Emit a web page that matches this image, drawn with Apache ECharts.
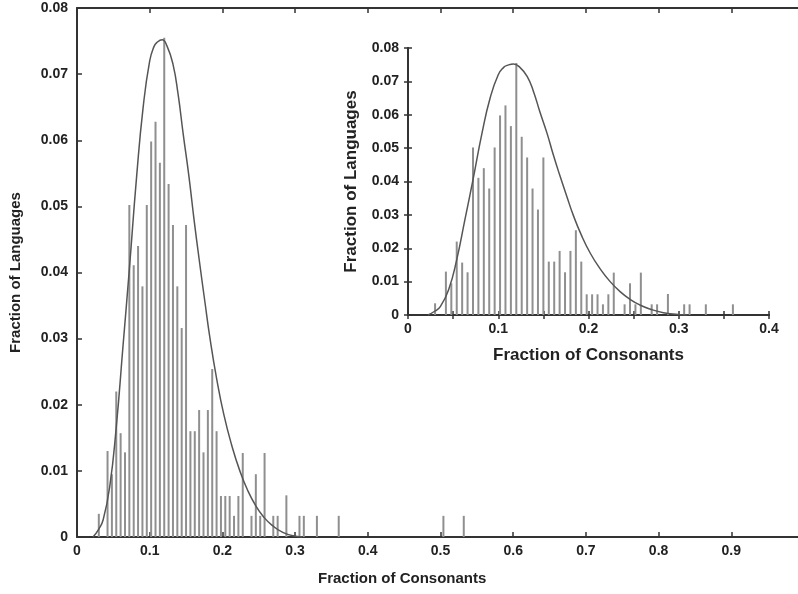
<!DOCTYPE html>
<html>
<head>
<meta charset="utf-8">
<script src="https://cdn.jsdelivr.net/npm/echarts@6/dist/echarts.min.js"></script>
<style>
html,body{margin:0;padding:0;background:#fff;}
#c{width:798px;height:594px;}
</style>
</head>
<body>
<div id="c"></div>
<script>
// Histogram bins (fraction of consonants) and fraction of languages
var binX = [0.030,0.042,0.048,0.054,0.060,0.066,0.072,0.078,0.084,0.090,0.096,0.102,0.108,0.114,0.120,0.126,0.132,0.138,0.144,0.150,0.156,0.162,0.168,0.174,0.180,0.186,0.192,0.198,0.204,0.210,0.216,0.222,0.228,0.240,0.246,0.252,0.258,0.270,0.276,0.288,0.306,0.312,0.330,0.360,0.504,0.532];
var binFrac = [0.0035,0.0130,0.0095,0.0220,0.0157,0.0128,0.0502,0.0411,0.0440,0.0379,0.0502,0.0598,0.0628,0.0566,0.0755,0.0534,0.0472,0.0379,0.0316,0.0472,0.0160,0.0160,0.0192,0.0128,0.0192,0.0254,0.0160,0.0062,0.0062,0.0062,0.0032,0.0062,0.0127,0.0032,0.0095,0.0032,0.0127,0.0032,0.0032,0.0063,0.0032,0.0032,0.0032,0.0032,0.0032,0.0032];
// Fitted curve
var curveX = [0.022,0.030,0.036,0.045,0.054,0.063,0.072,0.082,0.091,0.100,0.106,0.110,0.117,0.124,0.132,0.139,0.146,0.154,0.161,0.168,0.176,0.183,0.192,0.202,0.213,0.224,0.235,0.246,0.257,0.268,0.283,0.301,0.310];
var curveY = [0.0000,0.0012,0.0026,0.0076,0.0166,0.0285,0.0405,0.0545,0.0650,0.0720,0.0742,0.0748,0.0752,0.0742,0.0715,0.0670,0.0610,0.0545,0.0480,0.0420,0.0355,0.0300,0.0240,0.0185,0.0138,0.0100,0.0070,0.0047,0.0030,0.0018,0.0007,0.0001,0.0000];

var barData = binX.map(function(x,i){return [x, binFrac[i]];});
var curveData = curveX.map(function(x,i){return [x, curveY[i]];});

var FONT = 'Liberation Sans, Arial, sans-serif';
var axisCol = '#333';
var labelStyle = {fontFamily: FONT, fontSize: 14, fontWeight: 'bold', color: '#222'};
var nameStyle = {fontFamily: FONT, fontSize: 15, fontWeight: 'bold', color: '#222'};
var insetNameStyle = {fontFamily: FONT, fontSize: 17, fontWeight: 'bold', color: '#222'};

var chart = echarts.init(document.getElementById('c'), null, {renderer: 'canvas'});
chart.setOption({
  animation: false,
  backgroundColor: '#fff',
  grid: [
    {left: 77, top: 8, width: 727, height: 529, containLabel: false, outerBoundsMode: 'none'},
    {left: 408, top: 48, width: 361, height: 267, containLabel: false, outerBoundsMode: 'none', show: true, backgroundColor: '#fff', borderWidth: 0}
  ],
  xAxis: [
    {gridIndex: 0, type: 'value', min: 0, max: 1, interval: 0.1, position: 'bottom',
     axisLine: {lineStyle: {color: axisCol, width: 2}}, axisTick: {inside: true, length: 5, lineStyle: {color: axisCol, width: 1.5}},
     splitLine: {show: false}, axisLabel: Object.assign({margin: 7}, labelStyle)},
    {gridIndex: 0, type: 'value', min: 0, max: 1, interval: 0.1, position: 'top',
     axisLine: {lineStyle: {color: axisCol, width: 2}}, axisTick: {inside: true, length: 5, lineStyle: {color: axisCol, width: 1.5}},
     splitLine: {show: false}, axisLabel: {show: false}},
    {gridIndex: 1, type: 'value', min: 0, max: 0.4, interval: 0.05, position: 'bottom',
     name: 'Fraction of Consonants', nameLocation: 'middle', nameGap: 32, nameTextStyle: insetNameStyle,
     axisLine: {lineStyle: {color: axisCol, width: 2}}, axisTick: {inside: true, length: 4, lineStyle: {color: axisCol, width: 1.5}},
     splitLine: {show: false},
     axisLabel: Object.assign({margin: 7, formatter: function(v){ var k = Math.round(v*100); return (k % 10 === 0) ? String(k/100) : ''; }}, labelStyle)},
    {gridIndex: 1, type: 'value', min: 0, max: 0.4, interval: 0.05, position: 'top',
     axisLine: {lineStyle: {color: axisCol, width: 2}}, axisTick: {inside: true, length: 4, lineStyle: {color: axisCol, width: 1.5}},
     splitLine: {show: false}, axisLabel: {show: false}}
  ],
  yAxis: [
    {gridIndex: 0, type: 'value', min: 0, max: 0.08, interval: 0.01, position: 'left',
     name: 'Fraction of Languages', nameLocation: 'middle', nameGap: 54, nameTextStyle: nameStyle,
     axisLine: {lineStyle: {color: axisCol, width: 2}}, axisTick: {inside: true, length: 5, lineStyle: {color: axisCol, width: 1.5}},
     splitLine: {show: false}, axisLabel: Object.assign({margin: 9}, labelStyle)},
    {gridIndex: 1, type: 'value', min: 0, max: 0.08, interval: 0.01, position: 'left',
     name: 'Fraction of Languages', nameLocation: 'middle', nameGap: 48, nameTextStyle: insetNameStyle,
     axisLine: {lineStyle: {color: axisCol, width: 2}}, axisTick: {inside: true, length: 4, lineStyle: {color: axisCol, width: 1.5}},
     splitLine: {show: false}, axisLabel: Object.assign({margin: 9}, labelStyle)},
    {gridIndex: 1, type: 'value', min: 0, max: 0.08, interval: 0.01, position: 'right',
     axisLine: {lineStyle: {color: axisCol, width: 2}}, axisTick: {inside: true, length: 4, lineStyle: {color: axisCol, width: 1.5}},
     splitLine: {show: false}, axisLabel: {show: false}}
  ],
  graphic: [
    {type: 'text', left: 318, top: 571, style: {text: 'Fraction of Consonants', font: 'bold 15px ' + FONT, fill: '#222'}}
  ],
  series: [
    {type: 'bar', xAxisIndex: 0, yAxisIndex: 0, data: barData, barWidth: 2, itemStyle: {color: '#8f8f8f'}, silent: true},
    {type: 'line', xAxisIndex: 0, yAxisIndex: 0, data: curveData, smooth: true, showSymbol: false, lineStyle: {color: '#555', width: 1.5}, z: 3, silent: true},
    {type: 'bar', xAxisIndex: 2, yAxisIndex: 1, data: barData.filter(function(d){return d[0] <= 0.4;}), barWidth: 2, itemStyle: {color: '#8f8f8f'}, silent: true},
    {type: 'line', xAxisIndex: 2, yAxisIndex: 1, data: curveData, smooth: true, showSymbol: false, lineStyle: {color: '#555', width: 1.5}, z: 3, silent: true}
  ]
});
</script>
</body>
</html>
